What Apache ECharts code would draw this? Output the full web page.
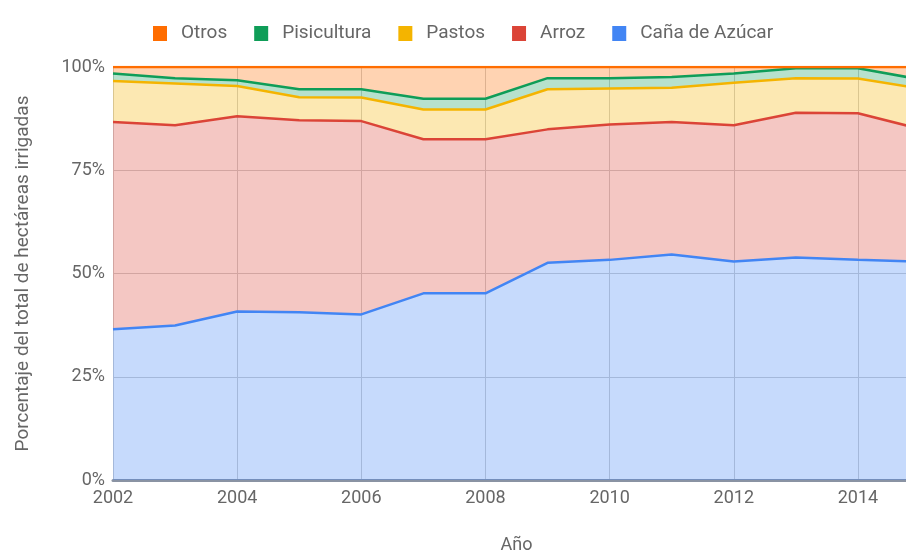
<!DOCTYPE html>
<html>
<head>
<meta charset="utf-8">
<script src="https://cdn.jsdelivr.net/npm/echarts@6/dist/echarts.min.js"></script>
<style>
html,body{margin:0;padding:0;background:#fff;overflow:hidden;}
#chart{width:906px;height:552px;}
</style>
</head>
<body>
<div id="chart"></div>
<script>
var years = ['2002','2003','2004','2005','2006','2007','2008','2009','2010','2011','2012','2013','2014','2015'];
var cana = [36.5, 37.4, 40.8, 40.6, 40.1, 45.2, 45.2, 52.6, 53.3, 54.6, 52.9, 53.9, 53.3, 52.9];
var arroz = [50.2, 48.5, 47.3, 46.5, 46.8, 37.3, 37.3, 32.3, 32.8, 32.1, 33.0, 35.0, 35.5, 32.1];
var pastos = [9.9, 10.1, 7.3, 5.6, 5.7, 7.2, 7.2, 9.7, 8.7, 8.3, 10.3, 8.4, 8.4, 9.8];
var pisicultura = [1.8, 1.3, 1.4, 1.9, 2.0, 2.6, 2.6, 2.7, 2.5, 2.6, 2.2, 2.4, 2.5, 2.2];
var otros = [1.6, 2.7, 3.2, 5.4, 5.4, 7.7, 7.7, 2.7, 2.7, 2.4, 1.6, 0.3, 0.3, 3.0];
var yTicks = [0, 25, 50, 75, 100];

var names = ['Caña de Azúcar', 'Arroz', 'Pastos', 'Pisicultura', 'Otros'];
var colors = ['#4285F4', '#DB4437', '#F4B400', '#0F9D58', '#FF6D00'];
var datas = [cana, arroz, pastos, pisicultura, otros];

var chart = echarts.init(document.getElementById('chart'), null, {width: 906, height: 552});
var series = names.map(function (n, i) {
  return {
    name: n,
    type: 'line',
    stack: 'total',
    data: datas[i],
    symbol: 'none',
    smooth: false,
    color: colors[i],
    lineStyle: {width: 2.5, color: colors[i]},
    areaStyle: {color: colors[i], opacity: 0.3}
  };
});

var txt = '#666';
chart.setOption({
  animation: false,
  backgroundColor: '#fff',
  textStyle: {fontFamily: 'Roboto'},
  legend: {
    data: ['Otros', 'Pisicultura', 'Pastos', 'Arroz', 'Caña de Azúcar'],
    top: 19,
    left: 148,
    icon: 'rect',
    itemWidth: 14,
    itemHeight: 15,
    itemGap: 27,
    textStyle: {fontSize: 19, color: txt, fontFamily: 'Roboto', padding: [0, 0, 0, 9]}
  },
  grid: {left: 113, top: 67, width: 807, height: 413, containLabel: false, outerBoundsMode: 'none'},
  xAxis: {
    type: 'category',
    data: years,
    boundaryGap: false,
    name: 'Año',
    nameLocation: 'middle',
    nameGap: 56,
    nameTextStyle: {fontSize: 18, color: txt},
    axisLine: {show: true, lineStyle: {color: '#8a93a3', width: 3}},
    axisTick: {show: false},
    axisLabel: {interval: 1, fontSize: 18, color: txt, margin: 9},
    splitLine: {show: true, interval: 1, lineStyle: {color: '#cfcfcf', width: 1}}
  },
  yAxis: {
    type: 'value',
    min: 0,
    max: 100,
    interval: 25,
    name: 'Porcentaje del total de hectáreas irrigadas',
    nameLocation: 'middle',
    nameGap: 80,
    nameTextStyle: {fontSize: 19, color: txt},
    axisLine: {show: false},
    axisTick: {show: false},
    axisLabel: {fontSize: 18, color: txt, margin: 8, formatter: function (v) { return yTicks.indexOf(v) >= 0 ? v + '%' : ''; }},
    splitLine: {show: true, lineStyle: {color: '#cfcfcf', width: 1}}
  },
  series: series
});
</script>
</body>
</html>
